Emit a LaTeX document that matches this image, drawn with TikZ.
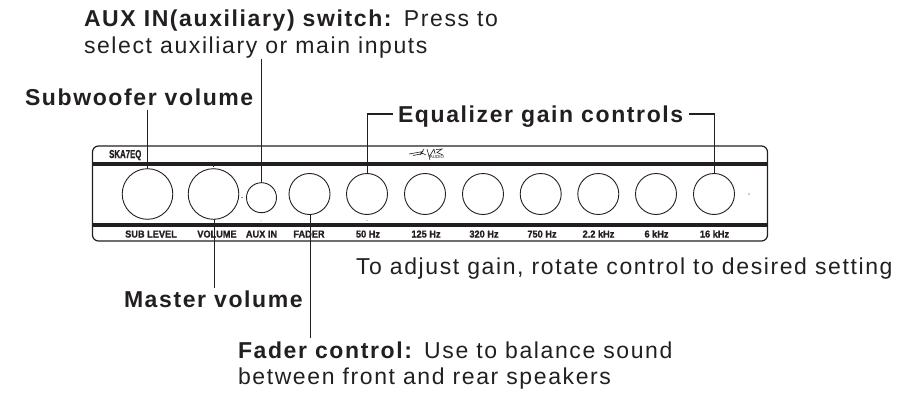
\documentclass[tikz,border=0pt]{standalone}
\usepackage{fontspec}
\setmainfont{Liberation Sans}
\newfontfamily\lblfont[LetterSpace=7.0]{Liberation Sans}
\newfontfamily\panelfont[FakeStretch=0.92,FakeBold=1.2]{Liberation Sans Bold}
\newfontfamily\modelfont[FakeStretch=0.68,FakeBold=1.0]{Liberation Sans Bold}
\definecolor{ink}{HTML}{231F20}
\tikzset{
  label text/.style={anchor=base west,inner sep=0pt,outer sep=0pt,text=ink,font=\fontsize{23}{23}\selectfont\lblfont},
  knob/.style={circle,draw=ink,line width=0.9pt,inner sep=0pt,outer sep=0pt,minimum size=#1},
  leader/.style={draw=ink,line width=1.4pt},
  bar/.style={draw=ink,line width=4pt},
  panel text/.style={anchor=base,inner sep=0pt,text=ink,font=\fontsize{10}{10}\selectfont\panelfont},
}
\begin{document}
\begin{tikzpicture}[x=1pt,y=-1pt]
\useasboundingbox (0,0) rectangle (915,393);
% panel
\draw[ink,line width=1.2pt,rounded corners=6pt] (92.5,146) rectangle (767.5,241);
\draw[bar] (92.5,163.5) -- (767.5,163.5);
\draw[bar] (92.5,224.5) -- (767.5,224.5);
% knobs
\node[knob=50.6pt] (sub) at (147.5,194) {};
\node[knob=50.6pt] (vol) at (213.5,194) {};
\node[knob=30pt] (aux) at (261.5,197.7) {};
\node[knob=41pt] (fad) at (309.5,194) {};
\node[knob=41pt] (k50) at (367,194) {};
\node[knob=41pt] (k125) at (425,194) {};
\node[knob=41pt] (k320) at (483,194) {};
\node[knob=41pt] (k750) at (540.7,194) {};
\node[knob=41pt] (k22) at (598.3,194) {};
\node[knob=41pt] (k6) at (656,194) {};
\node[knob=41pt] (k16) at (714,194) {};
% panel texts
\node[anchor=base west,inner sep=0pt,text=ink,font=\fontsize{11.5}{11.5}\selectfont\modelfont] (model) at (109,158) {SKA7EQ};
\node[panel text] (t1) at (151,237.5) {SUB LEVEL};
\node[panel text] (t2) at (217,237.5) {VOLUME};
\node[panel text] (t3) at (261.5,237.5) {AUX IN};
\node[panel text] (t4) at (309,237.5) {FADER};
\node[panel text] (t5) at (368,237.5) {50 Hz};
\node[panel text] (t6) at (426,237.5) {125 Hz};
\node[panel text] (t7) at (484,237.5) {320 Hz};
\node[panel text] (t8) at (542,237.5) {750 Hz};
\node[panel text] (t9) at (598.5,237.5) {2.2 kHz};
\node[panel text] (t10) at (656.5,237.5) {6 kHz};
\node[panel text] (t11) at (714.5,237.5) {16 kHz};
% logo
\draw[ink,line width=0.6pt] (409,154) -- (423,151.5) (413,155.5) -- (423,153.5) (424,149) -- (420,155)
  (420,152) -- (426,155) (427,149) -- (430,160) (434,149) -- (429,157) (434,149) -- (435,154)
  (436,149.5) -- (442,149) -- (437,152.5) -- (443,155);
\node[inner sep=0pt,text=ink,font=\fontsize{4.5}{4.5}\selectfont] (logo) at (437,156.5) {AUDIO};
% dots
\fill[ink] (213.5,166.5) circle (0.6pt) (242,197.5) circle (0.6pt) (749,194) circle (0.6pt) (367,220.5) circle (0.4pt) (261,221) circle (0.4pt);
% labels
\node[label text] (lauxa) at (84,27) {\textbf{AUX IN(auxiliary) switch:} Press to};
\node[label text] (lauxb) at (84,54) {select auxiliary or main inputs};
\node[label text] (lsub) at (25,106) {\textbf{Subwoofer volume}};
\node[label text] (leq) at (398,122) {\textbf{Equalizer gain controls}};
\node[label text] (ladj) at (356,274) {To adjust gain, rotate control to desired setting};
\node[label text] (lmas) at (124,307) {\textbf{Master volume}};
\node[label text] (lfada) at (238,358) {\textbf{Fader control:} Use to balance sound};
\node[label text] (lfadb) at (238,384) {between front and rear speakers};
% leaders
\coordinate (csub) at (147.5,110);
\coordinate (caux) at (261.5,59);
\coordinate (cmas) at (214.5,287.5);
\coordinate (cfad) at (310.5,338);
\coordinate (ceqa) at (367.5,114);
\coordinate (ceqb) at (393,114);
\coordinate (ceqc) at (689,114);
\coordinate (ceqd) at (714.5,114);
\draw[leader] (csub) -- (sub.north);
\draw[leader] (caux) -- (aux.north);
\draw[leader] (vol.south -| cmas) -- (cmas);
\draw[leader] (fad.south -| cfad) -- (cfad);
\draw[leader] (ceqb) -- (ceqa) -- (k50.north -| ceqa);
\draw[leader] (ceqc) -- (ceqd) -- (k16.north -| ceqd);
\end{tikzpicture}
\end{document}
